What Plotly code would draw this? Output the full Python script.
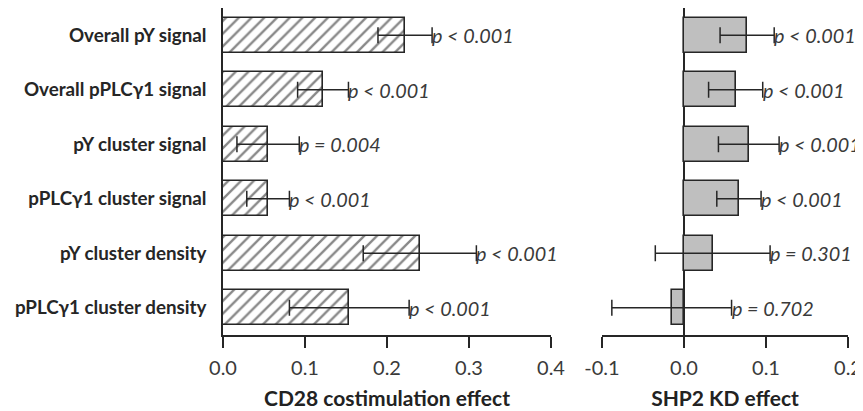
import plotly.graph_objects as go

categories = ["Overall pY signal", "Overall pPLCγ1 signal", "pY cluster signal",
              "pPLCγ1 cluster signal", "pY cluster density", "pPLCγ1 cluster density"]
cd28_effect = [0.222, 0.122, 0.055, 0.055, 0.240, 0.154]
cd28_err = [0.033, 0.031, 0.038, 0.026, 0.069, 0.073]
cd28_p = ["p < 0.001", "p < 0.001", "p = 0.004", "p < 0.001", "p < 0.001", "p < 0.001"]
shp2_effect = [0.077, 0.063, 0.079, 0.067, 0.035, -0.015]
shp2_err = [0.033, 0.033, 0.037, 0.027, 0.070, 0.073]
shp2_p = ["p < 0.001", "p < 0.001", "p < 0.001", "p < 0.001", "p = 0.301", "p = 0.702"]
cd28_ticks = [0.0, 0.1, 0.2, 0.3, 0.4]
cd28_ticktext = ["0.0", "0.1", "0.2", "0.3", "0.4"]
shp2_ticks = [-0.1, 0.0, 0.1, 0.2]
shp2_ticktext = ["-0.1", "0.0", "0.1", "0.2"]

FONT = "Lato"
TXT = "#3a3a3a"
LINE = "#262626"
W, H = 855, 403  # page body adds an 8px offset

fig = go.Figure()
fig.add_trace(go.Bar(
    y=categories, x=cd28_effect, orientation="h", width=0.64,
    marker=dict(color="white", line=dict(color=LINE, width=1.6),
                pattern=dict(shape="/", fgcolor="#111111", bgcolor="white", size=9, solidity=0.26)),
    error_x=dict(type="data", array=cd28_err, color=LINE, thickness=1.5, width=8),
    xaxis="x", yaxis="y", showlegend=False))
fig.add_trace(go.Bar(
    y=categories, x=shp2_effect, orientation="h", width=0.64,
    marker=dict(color="#bfbfbf", line=dict(color=LINE, width=1.6)),
    error_x=dict(type="data", array=shp2_err, color=LINE, thickness=1.5, width=8),
    xaxis="x2", yaxis="y2", showlegend=False))

ann = []
for c, v, e, p in zip(categories, cd28_effect, cd28_err, cd28_p):
    ann.append(dict(x=v + e, y=c, xref="x", yref="y", text="<i>" + p + "</i>", showarrow=False,
                    xanchor="left", xshift=-2, font=dict(family=FONT, size=19.8, color=TXT)))
for c, v, e, p in zip(categories, shp2_effect, shp2_err, shp2_p):
    ann.append(dict(x=v + e, y=c, xref="x2", yref="y2", text="<i>" + p + "</i>", showarrow=False,
                    xanchor="left", xshift=-2, font=dict(family=FONT, size=19.8, color=TXT)))

axis_common = dict(showgrid=False, showline=True, linecolor=LINE, linewidth=1.6,
                   ticks="outside", ticklen=11, tickwidth=1.6, tickcolor=LINE,
                   tickfont=dict(family=FONT, size=20, color=TXT), automargin=False,
                   ticklabelstandoff=3,
                   title_font=dict(family=FONT, size=21, color="#222222", weight="bold"),
                   title_standoff=14)

fig.update_layout(
    width=W, height=H, margin=dict(l=0, r=0, t=0, b=76),
    paper_bgcolor="white", plot_bgcolor="white", bargap=0,
    xaxis=dict(domain=[215 / W, 543 / W], range=[0, 0.4], tickvals=cd28_ticks,
               ticktext=cd28_ticktext, zeroline=False,
               title_text="CD28 costimulation effect", anchor="y", **axis_common),
    xaxis2=dict(domain=[594 / W, 840 / W], range=[-0.1, 0.2], tickvals=shp2_ticks,
                ticktext=shp2_ticktext, zeroline=True, zerolinecolor=LINE, zerolinewidth=1.6,
                title_text="SHP2 KD effect", anchor="y2", **axis_common),
    yaxis=dict(categoryorder="array", categoryarray=categories, autorange="reversed",
               showgrid=False, showline=True, linecolor=LINE, linewidth=1.6, ticks="",
               ticklabelstandoff=11, anchor="x", automargin=False,
               tickfont=dict(family=FONT, size=18.8, color="#262626", weight="bold")),
    yaxis2=dict(categoryorder="array", categoryarray=categories, autorange="reversed",
                showgrid=False, showline=False, showticklabels=False, ticks="", anchor="x2",
                matches="y", automargin=False),
    annotations=ann,
)
fig.write_html("out.html")
